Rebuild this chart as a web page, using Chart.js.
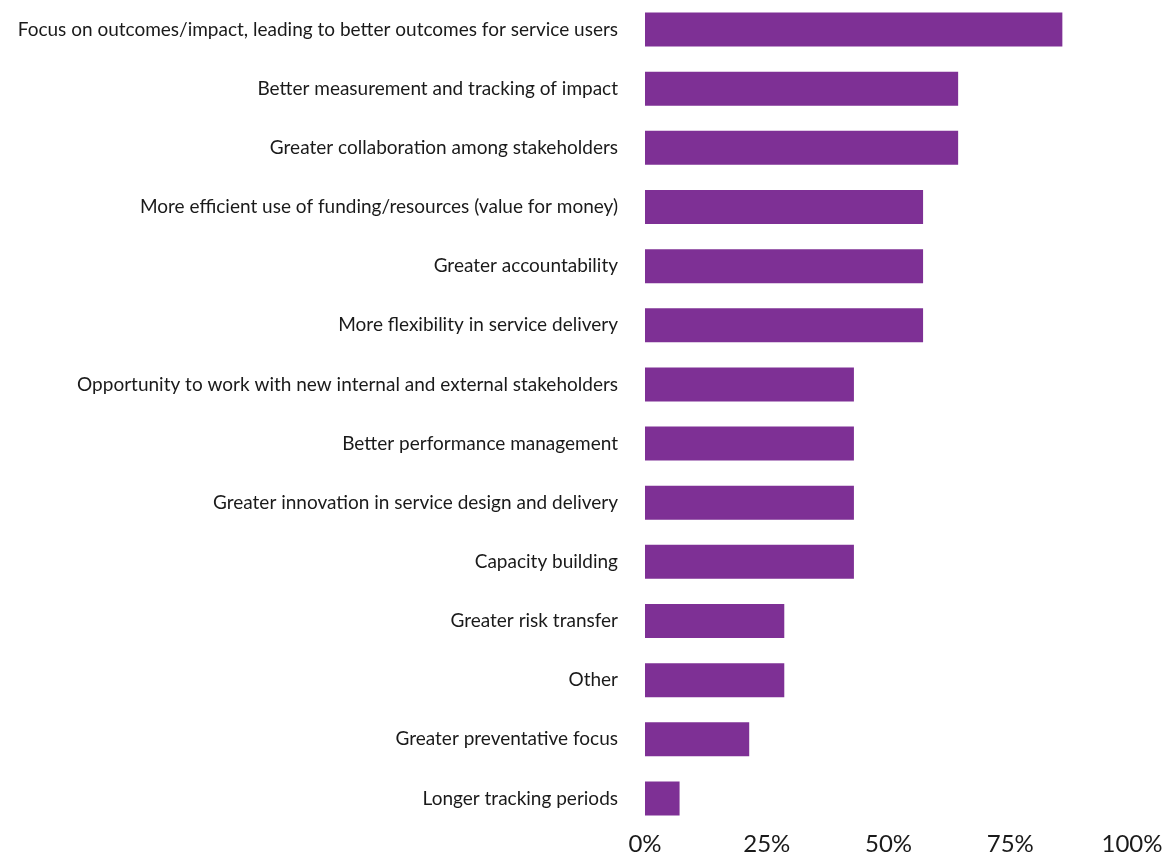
<!DOCTYPE html>
<html>
<head>
<meta charset="utf-8">
<script src="https://cdn.jsdelivr.net/npm/chart.js@4"></script>
<style>
  html, body { margin: 0; padding: 0; background: #fff; }
  #wrap { width: 1169px; height: 856px; }
</style>
</head>
<body>
<div id="wrap"><canvas id="benefits"></canvas></div>
<script>
const benefitLabels = [
    "Focus on outcomes/impact, leading to better outcomes for service users",
    "Better measurement and tracking of impact",
    "Greater collaboration among stakeholders",
    "More efficient use of funding/resources (value for money)",
    "Greater accountability",
    "More flexibility in service delivery",
    "Opportunity to work with new internal and external stakeholders",
    "Better performance management",
    "Greater innovation in service design and delivery",
    "Capacity building",
    "Greater risk transfer",
    "Other",
    "Greater preventative focus",
    "Longer tracking periods"
];
// share of respondents (%)
const benefitShares = [85.7, 64.3, 64.3, 57.1, 57.1, 57.1, 42.9, 42.9, 42.9, 42.9, 28.6, 28.6, 21.4, 7.1];
const xTicks = [0, 25, 50, 75, 100];

const barColor = '#7e3095';

const benefitsChart = new Chart('benefits', {
    type: 'bar',
    data: {
        labels: benefitLabels,
        datasets: [{
            data: benefitShares,
            backgroundColor: barColor,
            borderWidth: 0,
            categoryPercentage: 1,
            barPercentage: 0.575
        }]
    },
    options: {
        indexAxis: 'y',
        responsive: true,
        maintainAspectRatio: false,
        animation: false,
        layout: {
            padding: { left: 0, right: 37, top: 0, bottom: 0 }
        },
        plugins: {
            legend: { display: false },
            tooltip: { enabled: false }
        },
        scales: {
            x: {
                min: 0,
                max: 100,
                grid: { display: false, drawTicks: false },
                border: { display: false },
                afterBuildTicks: (scale) => {
                    scale.ticks = xTicks.map(v => ({ value: v }));
                },
                afterFit: (scale) => { scale.height = 28; },
                ticks: {
                    padding: 2,
                    maxRotation: 0,
                    color: '#1a1a1a',
                    font: { family: 'Lato', size: 24 },
                    callback: (v) => v + '%'
                }
            },
            y: {
                grid: { display: false, drawTicks: false },
                border: { display: false },
                afterFit: (scale) => {
                    // fixed label column; no extra space above/below the rows
                    scale.width = 645;
                    scale.paddingTop = 0;
                    scale.paddingBottom = 0;
                },
                ticks: {
                    padding: 27,
                    color: '#1a1a1a',
                    font: { family: 'Lato', size: 19 }
                }
            }
        }
    }
});
</script>
</body>
</html>
